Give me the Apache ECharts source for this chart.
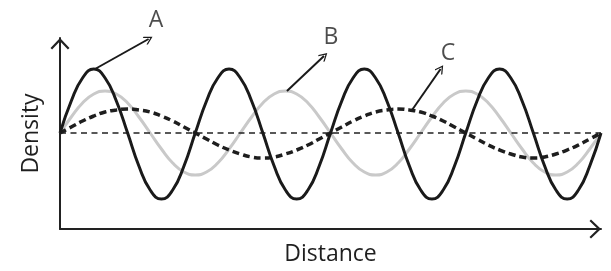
<!DOCTYPE html>
<html>
<head>
<meta charset="utf-8">
<script src="https://cdn.jsdelivr.net/npm/echarts@6/dist/echarts.min.js"></script>
<style>html,body{margin:0;padding:0;background:#fff}#c{width:611px;height:271px}</style>
</head>
<body>
<div id="c"></div>
<script>
// Distance samples: 49 points, step of 1/12 wavelength of wave A (0 .. 4)
var sampleStep = 1 / 12;
// Wave A (black solid, large amplitude)
var waveA = [0, 32, 55, 64, 55, 32, 0, -33, -57, -66, -57, -33,
             0, 32, 55, 64, 55, 32, 0, -33, -57, -66, -57, -33,
             0, 32, 55, 64, 55, 32, 0, -33, -57, -66, -57, -33,
             0, 32, 55, 64, 55, 32, 0, -33, -57, -66, -57, -33, 0];
// Wave B (light grey)
var waveB = [0, 16, 30, 39, 42, 39, 30, 16, 0, -16, -30, -39, -42, -39, -30, -16,
             0, 16, 30, 39, 42, 39, 30, 16, 0, -16, -30, -39, -42, -39, -30, -16,
             0, 16, 30, 39, 42, 39, 30, 16, 0, -16, -30, -39, -42, -39, -30, -16, 0];
// Wave C (thick dashed)
var waveC = [0, 6, 12, 17, 21, 23, 24, 23, 21, 17, 12, 6, 0, -6, -12, -17, -21, -24, -25, -24, -21, -17, -12, -6,
             0, 6, 12, 17, 21, 23, 24, 23, 21, 17, 12, 6, 0, -6, -12, -17, -21, -24, -25, -24, -21, -17, -12, -6, 0];
// Equilibrium (dashed centre line)
var baseline = [0, 0];
var baselineX = [0, 4];

// Annotation arrows (from point on curve to arrow tip) and labels
var labelNames = ['A', 'B', 'C'];
var arrowFrom = [[0.259, 64], [1.678, 42], [2.603, 23]];
var arrowTo = [[0.655, 94], [1.952, 77], [2.814, 64]];
var labelPos = [[0.71, 113], [2.004, 96], [2.869, 80]];

var xName = 'Distance';
var yName = 'Density';

function pairs(arr) {
  return arr.map(function (v, i) { return [i * sampleStep, v]; });
}

var chevron = 'path://M0,10 L9.5,0 L19,10 L17.4,11.5 L9.5,3.2 L1.6,11.5 Z';
var textColor = '#1f1f1f';
var font = '"Open Sans", "Noto Sans", sans-serif';

var chart = echarts.init(document.getElementById('c'), null, {renderer: 'canvas'});
chart.setOption({
  animation: false,
  backgroundColor: '#ffffff',
  grid: [
    {left: 60, right: 10, top: 38, bottom: 42},
    {left: 60, right: 10, top: 0, bottom: 42}
  ],
  xAxis: [
    {
      type: 'value', gridIndex: 0, min: 0, max: 4,
      name: xName, nameLocation: 'middle', nameGap: 14,
      nameTextStyle: {fontSize: 23, color: textColor, fontFamily: font},
      axisLine: {show: true, onZero: false, lineStyle: {color: '#222', width: 2},
                 symbol: ['none', chevron], symbolSize: [19, 11.5], symbolOffset: [0, -5.75]},
      axisTick: {show: false}, axisLabel: {show: false}, splitLine: {show: false}
    },
    {type: 'value', gridIndex: 1, min: 0, max: 4, show: false}
  ],
  yAxis: [
    {
      type: 'value', gridIndex: 0, min: -96, max: 95,
      name: yName, nameLocation: 'middle', nameGap: 17, nameRotate: 90,
      nameTextStyle: {fontSize: 23, color: textColor, fontFamily: font},
      axisLine: {show: true, lineStyle: {color: '#222', width: 2},
                 symbol: ['none', chevron], symbolSize: [19, 11.5], symbolOffset: [0, -5.75]},
      axisTick: {show: false}, axisLabel: {show: false}, splitLine: {show: false}
    },
    {type: 'value', gridIndex: 1, min: -96, max: 133, show: false}
  ],
  series: [
    {
      name: 'B', type: 'line', xAxisIndex: 0, yAxisIndex: 0, smooth: true, showSymbol: false,
      data: pairs(waveB), lineStyle: {color: '#c9c9c9', width: 3}, z: 2
    },
    {
      name: 'Equilibrium', type: 'line', xAxisIndex: 0, yAxisIndex: 0, showSymbol: false,
      data: baselineX.map(function (x, i) { return [x, baseline[i]]; }),
      lineStyle: {color: '#222', width: 1.5, type: [6, 4.5]}, z: 3
    },
    {
      name: 'C', type: 'line', xAxisIndex: 0, yAxisIndex: 0, smooth: true, showSymbol: false,
      data: pairs(waveC), lineStyle: {color: '#1e1e1e', width: 3.5, type: [7, 4]}, z: 4
    },
    {
      name: 'A', type: 'line', xAxisIndex: 0, yAxisIndex: 0, smooth: true, showSymbol: false,
      data: pairs(waveA), lineStyle: {color: '#1a1a1a', width: 3}, z: 5
    },
    {
      name: 'arrows', type: 'lines', coordinateSystem: 'cartesian2d', xAxisIndex: 1, yAxisIndex: 1,
      symbol: ['none', chevron], symbolSize: [15, 9],
      lineStyle: {color: '#1a1a1a', width: 2, opacity: 1, curveness: 0},
      data: arrowFrom.map(function (f, i) { return {coords: [f, arrowTo[i]]}; }),
      z: 6
    },
    {
      name: 'labels', type: 'scatter', xAxisIndex: 1, yAxisIndex: 1, symbolSize: 0,
      itemStyle: {color: 'rgba(0,0,0,0)'},
      data: labelPos.map(function (p, i) { return {value: p, name: labelNames[i]}; }),
      label: {show: true, position: 'inside', formatter: '{b}', fontSize: 23, color: textColor,
              fontFamily: font, textBorderWidth: 0},
      z: 7
    }
  ]
});
</script>
</body>
</html>
